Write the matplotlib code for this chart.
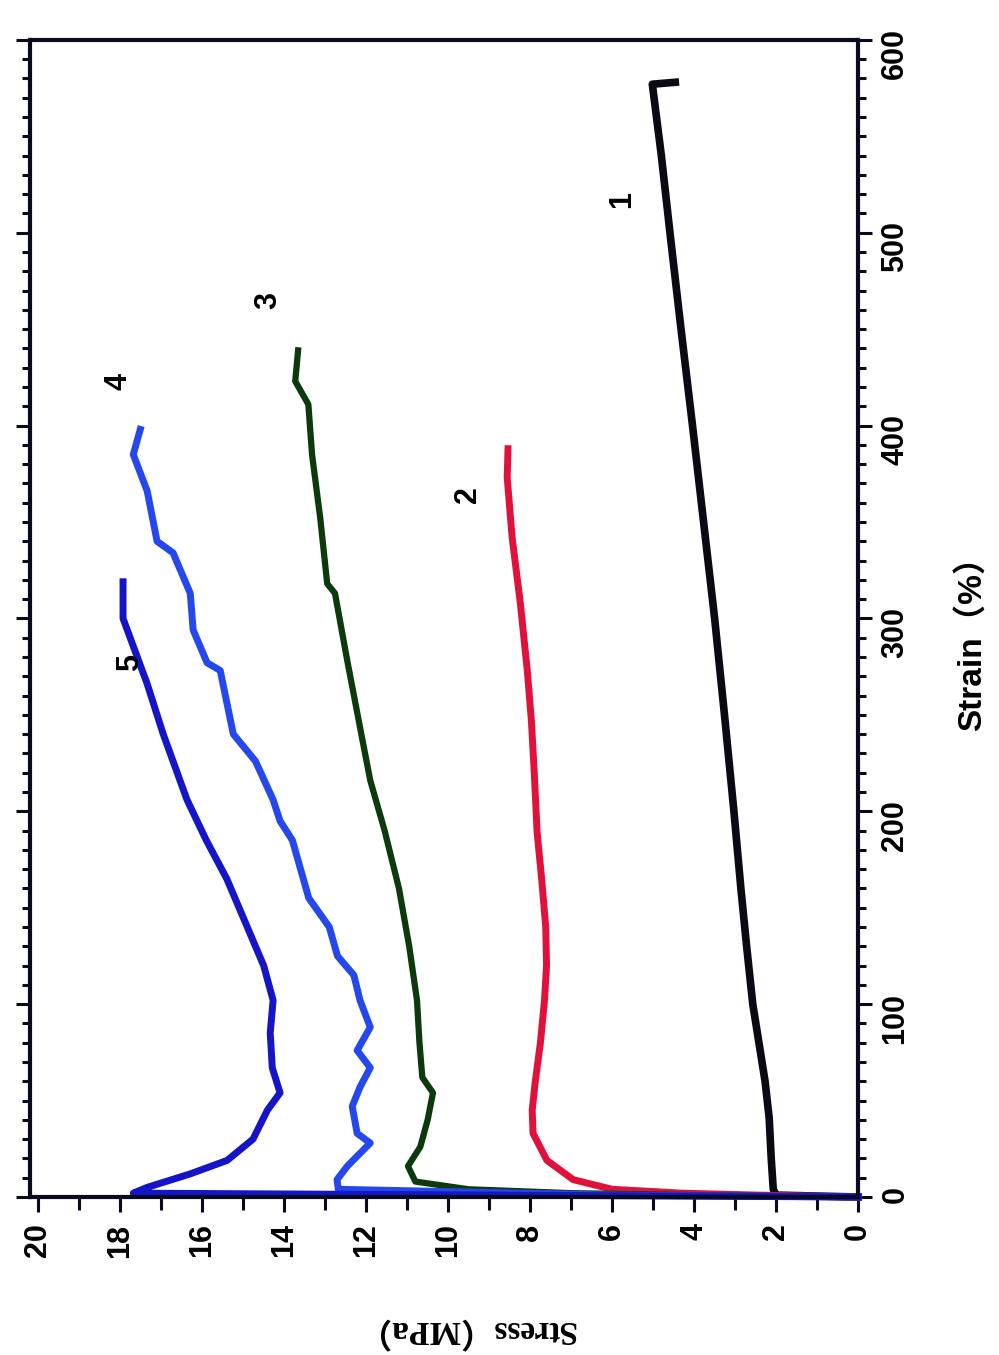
import matplotlib.pyplot as plt
from matplotlib.ticker import MultipleLocator

# stress-strain curves, read off the (rotated) figure
# strain in %, stress in MPa
strain1 = [0, 1, 4, 20, 41, 60, 80, 100, 130, 160, 200, 250, 300, 350, 400, 450, 500, 540, 577, 578]
stress1 = [0, 2.0, 2.07, 2.12, 2.17, 2.27, 2.42, 2.57, 2.72, 2.86, 3.03, 3.26, 3.50, 3.77, 4.04, 4.32, 4.59, 4.80, 5.02, 4.46]

strain2 = [0, 1, 2, 4, 9, 19, 33, 45, 59, 80, 102, 120, 140, 165, 189, 220, 247, 273, 308, 342, 373, 388]
stress2 = [0, 2.5, 4.3, 6.0, 6.95, 7.59, 7.93, 7.95, 7.88, 7.75, 7.65, 7.60, 7.62, 7.72, 7.83, 7.90, 7.97, 8.07, 8.24, 8.44, 8.56, 8.54]

strain3 = [0, 1, 2, 4, 8, 16, 26, 40, 54, 62, 80, 102, 130, 160, 190, 216, 238, 278, 313, 318, 352, 385, 411, 423, 439]
stress3 = [0, 4.0, 7.0, 9.5, 10.8, 10.98, 10.68, 10.5, 10.37, 10.63, 10.7, 10.76, 10.95, 11.2, 11.55, 11.90, 12.10, 12.46, 12.76, 12.95, 13.12, 13.32, 13.41, 13.73, 13.66]

strain4 = [0, 1, 4, 9, 16, 28, 33, 47, 57, 67, 76, 88, 102, 115, 125, 140, 155, 170, 185, 195, 206, 226, 240, 273, 277, 294, 313, 334, 340, 366, 385, 398]
stress4 = [0, 6.0, 12.68, 12.71, 12.46, 11.90, 12.22, 12.34, 12.15, 11.90, 12.22, 11.90, 12.15, 12.3, 12.7, 12.9, 13.4, 13.6, 13.8, 14.1, 14.27, 14.7, 15.24, 15.56, 15.88, 16.22, 16.29, 16.71, 17.10, 17.34, 17.68, 17.51]

strain5 = [0, 1, 2, 5, 12, 19, 30, 45, 54, 67, 85, 102, 120, 140, 165, 185, 206, 240, 266, 300, 319]
stress5 = [0, 9.0, 17.68, 17.34, 16.29, 15.39, 14.76, 14.41, 14.10, 14.29, 14.34, 14.27, 14.5, 14.9, 15.4, 15.9, 16.37, 16.95, 17.34, 17.93, 17.93]

curve_names = ['1', '2', '3', '4', '5']
stress_ticks = list(range(0, 21, 2))
strain_ticks = list(range(0, 601, 100))

tick_font = {'family': ['Liberation Sans', 'DejaVu Sans'], 'weight': 'bold', 'size': 22}

fig = plt.figure(figsize=(9.99, 13.55), dpi=100)
ax = fig.add_axes([0.030, 0.1166, 0.829, 0.854])

# the whole chart is turned 90 degrees: stress runs right->left, strain bottom->top
ax.plot(stress1, strain1, color='#0a0a14', lw=5.5, clip_on=False, solid_joinstyle='round')
ax.plot(stress2, strain2, color='#e0123c', lw=5.0, clip_on=False, solid_joinstyle='round')
ax.plot(stress3, strain3, color='#0c3a0c', lw=4.5, clip_on=False, solid_joinstyle='round')
ax.plot(stress4, strain4, color='#2448ee', lw=5.0, clip_on=False, solid_joinstyle='round')
ax.plot(stress5, strain5, color='#1414c8', lw=5.0, clip_on=False, solid_joinstyle='round')

label_pos = [(5.76, 517), (9.51, 364), (14.39, 465), (18.05, 423), (17.76, 277)]
for name, (s, e) in zip(curve_names, label_pos):
    ax.text(s, e, name, rotation=90, ha='center', va='center', fontdict=tick_font)

ax.set_xlim(20.2, 0)
ax.set_ylim(0, 600)

ax.set_xticks(stress_ticks)
ax.xaxis.set_minor_locator(MultipleLocator(1))
ax.set_yticks(strain_ticks)
ax.yaxis.set_minor_locator(MultipleLocator(10))

ax.tick_params(axis='x', which='both', direction='out', bottom=True, top=False,
               width=2.2, color='#0a0a1e', labelrotation=90, pad=8)
ax.tick_params(axis='x', which='major', length=11)
ax.tick_params(axis='x', which='minor', length=9)
ax.tick_params(axis='y', which='both', direction='out', left=True, right=True,
               labelleft=False, labelright=True, width=2.2, color='#0a0a1e',
               labelrotation=90, pad=6)
ax.tick_params(axis='y', which='major', length=10)
ax.tick_params(axis='y', which='minor', length=6)

for lab in ax.get_xticklabels() + ax.get_yticklabels():
    lab.set_fontfamily(['Liberation Sans', 'DejaVu Sans'])
    lab.set_fontweight('bold')
    lab.set_fontsize(22)

for sp in ax.spines.values():
    sp.set_linewidth(3)
    sp.set_color('#0a0a1e')

fig.text(0.973, 0.531, 'Strain（%）', rotation=90, ha='center', va='center',
         family=['Liberation Sans', 'Noto Sans CJK SC'], weight='bold', fontsize=24)
fig.text(0.4655, 0.0185, 'Stress（MPa）', rotation=180, ha='center', va='center',
         family=['Liberation Serif', 'Noto Sans CJK SC'], weight='bold', fontsize=24)

fig.savefig('out.png', dpi=100)
